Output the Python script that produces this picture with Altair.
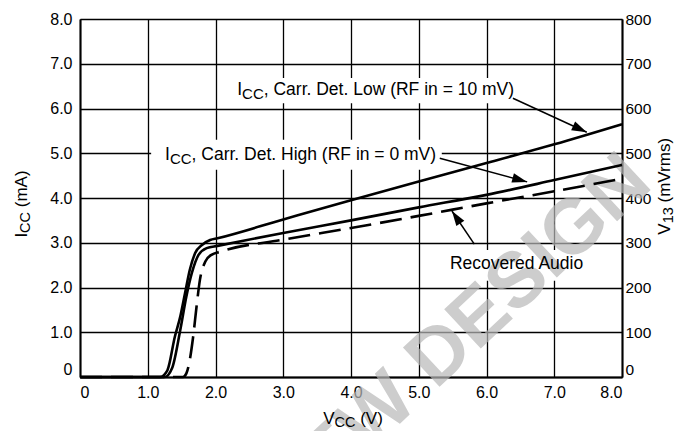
import math
import altair as alt
import pandas as pd

# ---------------- data ----------------
low_x = [0.0, 1.18, 1.29, 1.40, 1.48, 1.55, 1.62, 1.70, 1.80, 1.92, 2.03, 3.0, 4.0, 5.0, 6.0, 7.0, 8.0]
low_y = [0.0, 0.0, 0.15, 0.90, 1.35, 1.87, 2.39, 2.77, 2.95, 3.06, 3.10, 3.52, 3.95, 4.37, 4.78, 5.20, 5.65]

high_x = [0.0, 1.25, 1.36, 1.48, 1.57, 1.65, 1.75, 1.87, 2.03, 3.0, 4.0, 5.0, 6.0, 7.0, 8.0]
high_y = [0.0, 0.0, 0.20, 1.05, 1.80, 2.32, 2.73, 2.88, 2.93, 3.22, 3.50, 3.79, 4.07, 4.40, 4.74]

audio_x = [0.0, 1.52, 1.57, 1.62, 1.67, 1.72, 1.77, 1.85, 1.94, 2.07, 3.0, 4.0, 5.0, 6.0, 7.0, 8.0]
audio_mv = [0, 0, 8, 38, 90, 157, 217, 258, 273, 280, 307, 333, 360, 388, 415, 443]

x_ticks = [0, 1, 2, 3, 4, 5, 6, 7, 8]
y_ticks = [0, 1, 2, 3, 4, 5, 6, 7, 8]
mv_ticks = [0, 100, 200, 300, 400, 500, 600, 700, 800]

# annotations: label prefix / subscript / rest, anchor (data units)
ann_pre = ["I", "I", ""]
ann_sub = ["CC", "CC", ""]
ann_rest = [", Carr. Det. Low (RF in = 10 mV)", ", Carr. Det. High (RF in = 0 mV)", "Recovered Audio"]
ann_x = [2.32, 1.255, 5.46]
ann_y = [6.41, 4.96, 2.525]

box_x1 = [2.25, 1.05, 5.39]
box_x2 = [6.42, 5.34, 7.53]
box_y1 = [6.12, 4.63, 2.15]
box_y2 = [6.68, 5.30, 2.84]

arr_x1 = [6.39, 5.31, 5.82]
arr_y1 = [6.23, 4.89, 2.97]
arr_x2 = [7.48, 6.60, 5.49]
arr_y2 = [5.47, 4.36, 3.71]

watermark = "NEW DESIGN"

# ---------------- layout / style ----------------
W, H = 542, 358
FONT = "Liberation Sans, Arial, Helvetica, sans-serif"
MAIN = 17.5
SUB = 15
TICK = 16

AW = {' ': 278, '(': 333, ')': 333, ',': 278, '.': 278, '=': 584, '0': 556, '1': 556,
      '3': 556, 'A': 667, 'C': 722, 'D': 722, 'F': 611, 'H': 722, 'I': 278, 'L': 556,
      'R': 722, 'V': 667, 'a': 556, 'c': 500, 'd': 556, 'e': 556, 'g': 556, 'h': 556,
      'i': 222, 'm': 833, 'n': 556, 'o': 556, 'r': 333, 's': 500, 't': 278, 'u': 556,
      'v': 500, 'w': 722}


def tw(s, size):
    return sum(AW.get(c, 556) for c in s) / 1000.0 * size


xs = alt.Scale(domain=[0, 8], nice=False, zero=False)
ys = alt.Scale(domain=[0, 8], nice=False, zero=False)
mvs = alt.Scale(domain=[0, 800], nice=False, zero=False)

lab0 = "datum.value == 0 ? '0' : format(datum.value, '.1f')"
base0 = {"condition": {"test": "datum.value == 0", "value": "bottom"}, "value": "middle"}
xaxis = alt.Axis(values=x_ticks, grid=True, gridColor="black", gridWidth=1.3, gridOpacity=1,
                 domain=True, domainColor="black", domainWidth=2, ticks=False,
                 labelExpr=lab0, labelFont=FONT, labelFontSize=TICK, labelColor="black",
                 labelPadding=7, title=None)
yaxis = alt.Axis(values=y_ticks, grid=True, gridColor="black", gridWidth=1.3, gridOpacity=1,
                 domain=True, domainColor="black", domainWidth=2, ticks=False,
                 labelExpr=lab0, labelFont=FONT, labelFontSize=TICK, labelColor="black",
                 labelBaseline=base0, labelPadding=8, title=None)
mvaxis = alt.Axis(orient="right", values=mv_ticks, grid=False, domain=True, domainColor="black",
                  domainWidth=2, ticks=False, labelFont=FONT, labelFontSize=TICK - 0.5,
                  labelColor="black", labelBaseline=base0, labelPadding=3, title=None)

X = lambda f="x": alt.X(f"{f}:Q", scale=xs, axis=xaxis)
Y = lambda f="y": alt.Y(f"{f}:Q", scale=ys, axis=yaxis)

layers = []

# white boxes behind labels
boxes = pd.DataFrame({"x": box_x1, "x2": box_x2, "y": box_y1, "y2": box_y2})
layers.append(alt.Chart(boxes).mark_rect(color="white").encode(
    x=X(), x2="x2:Q", y=Y(), y2="y2:Q"))

# watermark
wm = pd.DataFrame({"t": [watermark]})
layers.append(alt.Chart(wm).mark_text(font=FONT, fontSize=78, fontWeight="bold", color="#b8b8b8",
                                      opacity=0.7, angle=317, align="center", baseline="middle").encode(
    text="t:N", x=alt.value(375), y=alt.value(322)))

# solid curves
curves = pd.DataFrame({
    "x": low_x + high_x,
    "y": low_y + high_y,
    "s": ["low"] * len(low_x) + ["high"] * len(high_x),
})
layers.append(alt.Chart(curves).mark_line(color="black", strokeWidth=2.6, interpolate="monotone").encode(
    x=X(), y=Y(), detail="s:N"))

# arrows
arrows = pd.DataFrame({"x": arr_x1, "y": arr_y1, "x2": arr_x2, "y2": arr_y2})
layers.append(alt.Chart(arrows).mark_rule(color="black", strokeWidth=1.5).encode(
    x=X(), y=Y(), x2="x2:Q", y2="y2:Q"))
sx, sy = W / 8.0, H / 8.0
for i in range(len(arr_x1)):
    ang = math.degrees(math.atan2(-(arr_y2[i] - arr_y1[i]) * sy, (arr_x2[i] - arr_x1[i]) * sx)) % 360
    head = pd.DataFrame({"x": [arr_x2[i]], "y": [arr_y2[i]]})
    layers.append(alt.Chart(head).mark_point(shape="M0,0L-1,-0.32L-1,0.32Z", size=900, filled=True,
                                             color="black", opacity=1, strokeWidth=0, angle=ang).encode(
        x=X(), y=Y()))


def add_parts(parts, enc, ang=0, center=False):
    """parts: list of (text, size, dy); leading spaces become offsets."""
    widths = [tw(t, s) for t, s, _ in parts]
    off = -sum(widths) / 2 if center else 0.0
    for (txt, size, dy), w in zip(parts, widths):
        lead = len(txt) - len(txt.lstrip(" "))
        body = txt.lstrip(" ")
        if body:
            props = dict(text=body, font=FONT, fontSize=size, color="black", align="left",
                         baseline="middle", dx=off + tw(" " * lead, size), dy=dy)
            if ang:
                props["angle"] = ang
            layers.append(enc(alt.Chart(enc.data).mark_text(**props)))
        off += w


# annotation texts (with subscripts)
for i in range(len(ann_x)):
    df = pd.DataFrame({"x": [ann_x[i]], "y": [ann_y[i]]})

    def enc(c, df=df):
        return c.encode(x=X(), y=Y())
    enc.data = df
    add_parts([(ann_pre[i], MAIN, 0), (ann_sub[i], SUB, 4), (ann_rest[i], MAIN, 0)], enc)

# axis titles (text with subscripts), positioned in pixels relative to the plot area
titles = [
    ([("I", 17, 0), ("CC", 14.5, 4), (" (mA)", 17, 0)], -58, 185, 270),
    ([("V", 17, 0), ("CC", 14.5, 4), (" (V)", 17, 0)], 273, 400, 0),
    ([("V", 17, 0), ("13", 14.5, 4), (" (mVrms)", 17, 0)], 585, 167, 270),
]
one = pd.DataFrame({"a": [0]})
for parts, px, py, ang in titles:
    def enc(c, px=px, py=py):
        return c.encode(x=alt.value(px), y=alt.value(py))
    enc.data = one
    add_parts(parts, enc, ang=ang, center=True)

left = alt.layer(*layers)

audio = pd.DataFrame({"x": audio_x, "mv": audio_mv})
right = alt.Chart(audio).mark_line(color="black", strokeWidth=2.6, strokeDash=[22, 9],
                                   interpolate="monotone").encode(
    x=X(), y=alt.Y("mv:Q", scale=mvs, axis=mvaxis))

chart = alt.layer(left, right).resolve_scale(y="independent").properties(
    width=W, height=H,
    padding={"left": 72, "top": 11, "right": 56, "bottom": 54},
    autosize=alt.AutoSizeParams(type="none"),
).configure_view(stroke="black", strokeWidth=2).configure(background="white")

chart.save("out.html", embed_options={"renderer": "svg", "actions": False})
